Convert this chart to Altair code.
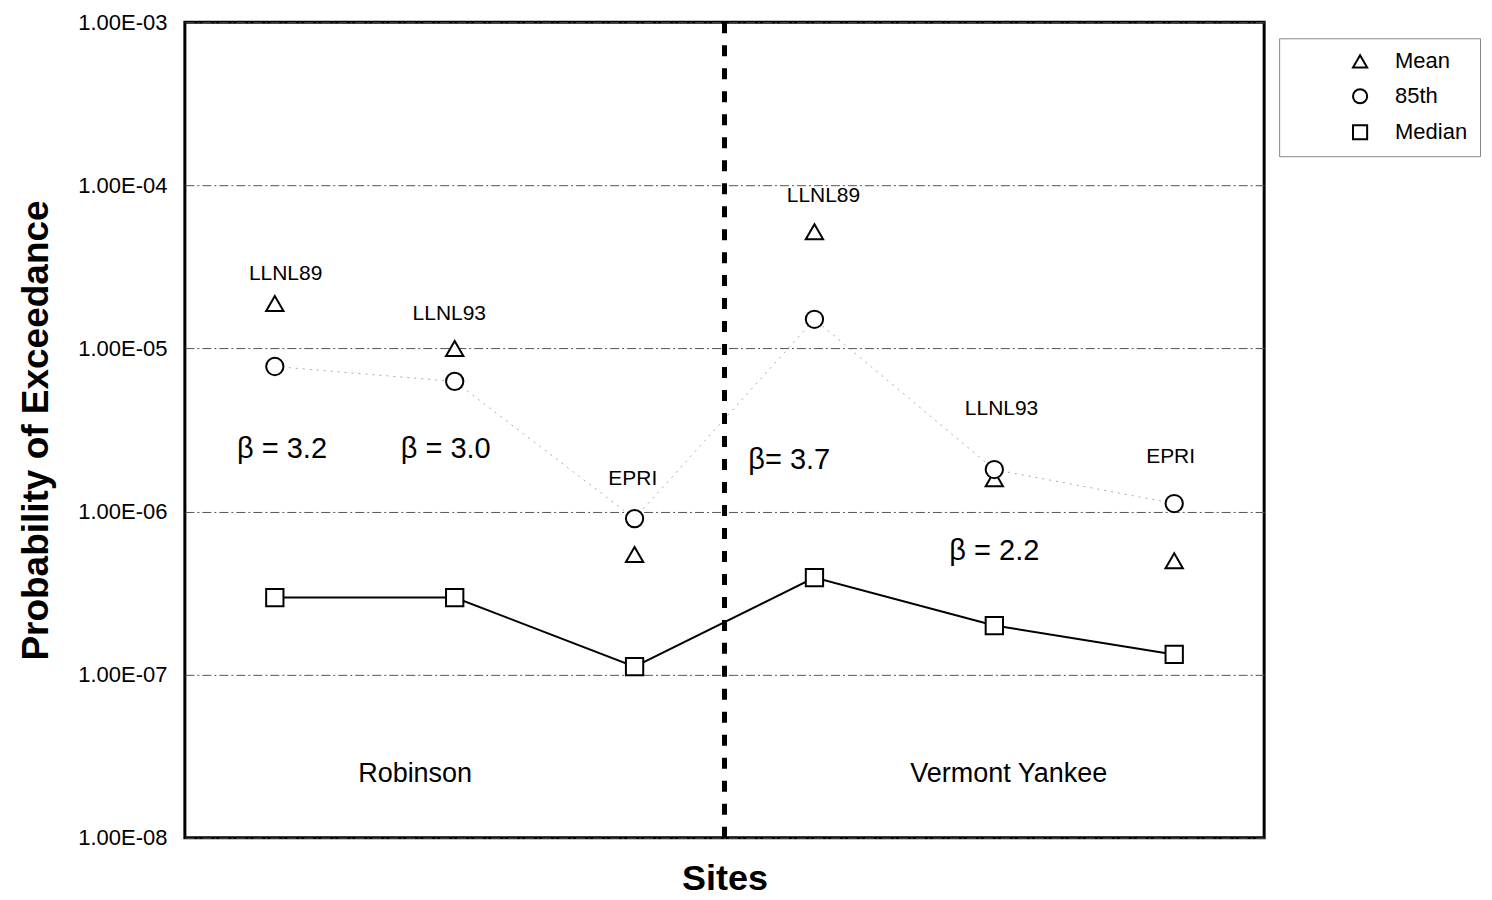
import altair as alt
import pandas as pd

# ---- data ----
positions = [1, 2, 3, 4, 5, 6]
mean_vals = [1.89e-5, 1.0e-5, 5.45e-7, 5.2e-5, 1.59e-6, 5.0e-7]
p85_vals = [7.75e-6, 6.28e-6, 9.06e-7, 1.51e-5, 1.81e-6, 1.12e-6]
median_vals = [2.97e-7, 2.97e-7, 1.12e-7, 3.94e-7, 2.0e-7, 1.33e-7]

study_labels = ["LLNL89", "LLNL93", "EPRI", "LLNL89", "LLNL93", "EPRI"]
study_label_y = [2.88e-5, 1.62e-5, 1.59e-6, 8.66e-5, 4.28e-6, 2.17e-6]
study_label_x = [1.06, 1.97, 2.99, 4.05, 5.04, 5.98]

beta_texts = ["β  = 3.2", "β  = 3.0", "β= 3.7", "β    = 2.2"]
beta_x = [1.04, 1.95, 3.86, 5.0]
beta_y = [2.43e-6, 2.43e-6, 2.08e-6, 5.77e-7]

site_names = ["Robinson", "Vermont Yankee"]
site_x = [1.78, 5.08]
site_y = [2.47e-8, 2.47e-8]

divider_x = [3.5]
y_ticks = [1e-8, 1e-7, 1e-6, 1e-5, 1e-4, 1e-3]
series_order = ["Mean", "85th", "Median"]

FONT = "Liberation Sans"

rows = []
for x, m, p, md in zip(positions, mean_vals, p85_vals, median_vals):
    rows.append({"x": x, "v": m, "series": "Mean"})
    rows.append({"x": x, "v": p, "series": "85th"})
    rows.append({"x": x, "v": md, "series": "Median"})
df = pd.DataFrame(rows)

xscale = alt.Scale(domain=[0.5, 6.5], nice=False, zero=False)
yscale = alt.Scale(type="log", domain=[1e-8, 1e-3], nice=False)

X = alt.X("x:Q", scale=xscale,
          axis=alt.Axis(title="Sites", labels=False, ticks=False, grid=False, domain=False,
                        titleFont=FONT, titleFontSize=36, titleFontWeight="bold",
                        titlePadding=24, titleColor="black"))
Y = alt.Y("v:Q", scale=yscale,
          axis=alt.Axis(title="Probability of Exceedance", values=y_ticks,
                        labelExpr="'1.00E-0' + round(-log(datum.value)/LN10)",
                        labelFont=FONT, labelFontSize=22, labelColor="black",
                        labelPadding=18, ticks=False, domain=False,
                        grid=True, gridColor="#555555", gridDash=[9, 3, 2, 3], gridWidth=1,
                        titleFont=FONT, titleFontSize=37, titleFontWeight="bold",
                        titleColor="black", titlePadding=22))

base = alt.Chart(df)

line85 = base.transform_filter(alt.datum.series == "85th").mark_line(
    color="#aaaaaa", strokeWidth=1, strokeDash=[2, 5]
).encode(x=X, y=Y)

line_med = base.transform_filter(alt.datum.series == "Median").mark_line(
    color="black", strokeWidth=2
).encode(x=X, y=Y)

legend_kw = dict(title=None, orient="none", legendX=1095, legendY=16,
                 labelFont=FONT, labelFontSize=22, labelColor="black",
                 symbolSize=200, symbolStrokeColor="black",
                 symbolStrokeWidth=2, symbolFillColor="white",
                 symbolOpacity=1, symbolOffset=58,
                 rowPadding=12, padding=12, offset=0,
                 strokeColor="#888888", labelOffset=24)

points = base.mark_point(filled=False, fill="white", fillOpacity=1,
                         strokeWidth=2, opacity=1).encode(
    x=X, y=Y,
    color=alt.Color("series:N",
                    scale=alt.Scale(domain=series_order, range=["black", "black", "black"]),
                    legend=alt.Legend(**legend_kw)),
    shape=alt.Shape("series:N",
                    scale=alt.Scale(domain=series_order,
                                    range=["triangle-up", "circle", "square"]),
                    legend=alt.Legend(**legend_kw)),
    size=alt.value(300),
)

divider = alt.Chart(pd.DataFrame({"x": divider_x})).mark_rule(
    color="black", strokeWidth=5, strokeDash=[11, 12]
).encode(x=alt.X("x:Q", scale=xscale), y=alt.value(0), y2=alt.value(816))

lab_df = pd.DataFrame({"x": study_label_x, "v": study_label_y, "t": study_labels})
study_text = alt.Chart(lab_df).mark_text(font=FONT, fontSize=21, color="black",
                                         baseline="middle").encode(
    x=alt.X("x:Q", scale=xscale), y=alt.Y("v:Q", scale=yscale), text="t:N")

beta_df = pd.DataFrame({"x": beta_x, "v": beta_y, "t": beta_texts})
beta_text = alt.Chart(beta_df).mark_text(font=FONT, fontSize=29, color="black",
                                         baseline="middle").encode(
    x=alt.X("x:Q", scale=xscale), y=alt.Y("v:Q", scale=yscale), text="t:N")

site_df = pd.DataFrame({"x": site_x, "v": site_y, "t": site_names})
site_text = alt.Chart(site_df).mark_text(font=FONT, fontSize=27, color="black",
                                         baseline="middle").encode(
    x=alt.X("x:Q", scale=xscale), y=alt.Y("v:Q", scale=yscale), text="t:N")

chart = alt.layer(line85, line_med, divider, points, study_text, beta_text, site_text).properties(
    width=1080, height=816,
    autosize=alt.AutoSizeParams(type="none"),
    padding={"left": 177, "top": 14, "right": 220, "bottom": 60},
    background="white",
).configure(
    view=alt.ViewConfig(stroke="black", strokeWidth=3)
)

chart.save("out.html", embed_options={"renderer": "svg", "actions": False})
